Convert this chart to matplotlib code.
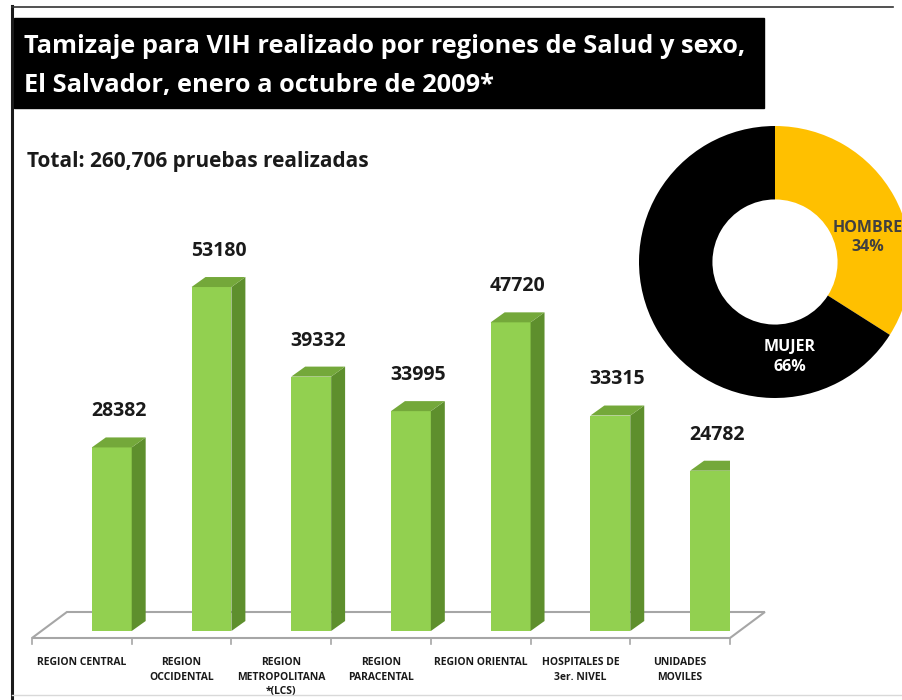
import matplotlib
matplotlib.use("Agg")
import matplotlib.pyplot as plt
from matplotlib.patches import Polygon, Rectangle
from matplotlib.lines import Line2D

plt.rcParams['font.family'] = ['Open Sans', 'DejaVu Sans']

# data
categories = ['REGION CENTRAL', 'REGION\nOCCIDENTAL', 'REGION\nMETROPOLITANA\n*(LCS)',
              'REGION\nPARACENTAL', 'REGION ORIENTAL', 'HOSPITALES DE\n3er. NIVEL',
              'UNIDADES\nMOVILES']
tests = [28382, 53180, 39332, 33995, 47720, 33315, 24782]
sex_labels = ['HOMBRE', 'MUJER']
sex_share = [34, 66]

title = 'Tamizaje para VIH realizado por regiones de Salud y sexo,\nEl Salvador, enero a octubre de 2009*'
subtitle = 'Total: 260,706 pruebas realizadas'

W, H = 902, 700


def fx(x):
    return x / W


def fy(y):
    return 1 - y / H


fig = plt.figure(figsize=(W / 100, H / 100), dpi=100)
fig.patch.set_facecolor('white')

# frame lines and title box
fig.add_artist(Line2D([fx(12), fx(12)], [fy(6), fy(700)], color='#1a1a1a', lw=2.2))
fig.add_artist(Line2D([fx(12), fx(893)], [fy(7), fy(7)], color='#333333', lw=1.2))
fig.add_artist(Line2D([fx(12), fx(902)], [fy(695), fy(695)], color='#d9d9d9', lw=1))
fig.add_artist(Rectangle((fx(14), fy(108)), fx(764) - fx(14), fy(18) - fy(108),
                         transform=fig.transFigure, color='black'))
fig.text(fx(24), fy(66), title, color='white', fontsize=18.3, fontweight='bold',
         ha='left', va='center', linespacing=1.72)
fig.text(fx(27), fy(161), subtitle, color='#1a1a1a', fontsize=15, fontweight='bold',
         ha='left', va='center')

# bar chart (pseudo 3D)
ax = fig.add_axes([fx(32), fy(638), fx(730) - fx(32), fy(238) - fy(638)])
ax.set_xlim(-0.5, 6.5)
ax.set_ylim(-1080, 60760)
for s in ax.spines.values():
    s.set_visible(False)
ax.set_yticks([])

n = len(tests)
ddx, ddy = 0.14, 1546
shift, bw = 0.3, 0.4
floor_front, floor_back, floor_dx = -1080, 2940, 0.35

floor = Polygon([(-0.5, floor_front), (n - 0.5, floor_front),
                 (n - 0.5 + floor_dx, floor_back), (-0.5 + floor_dx, floor_back)],
                closed=True, facecolor='white', edgecolor='#a6a6a6', lw=1.5,
                clip_on=False, zorder=1)
ax.add_patch(floor)
for k in range(n + 1):
    ax.plot([k - 0.5, k - 0.5], [floor_front, floor_front - 900], color='#a6a6a6',
            lw=1.2, clip_on=False, zorder=1)

xs = [i + shift for i in range(n)]
ax.bar(xs, tests, width=bw, color='#92d050', zorder=3)
for x, v in zip(xs, tests):
    xl, xr = x - bw / 2, x + bw / 2
    ax.add_patch(Polygon([(xr, 0), (xr + ddx, ddy), (xr + ddx, v + ddy), (xr, v)],
                         closed=True, facecolor='#5e8f2d', edgecolor='none', zorder=3))
    ax.add_patch(Polygon([(xl, v), (xr, v), (xr + ddx, v + ddy), (xl + ddx, v + ddy)],
                         closed=True, facecolor='#74a83a', edgecolor='none', zorder=3))
    ax.text(x + 0.07, v + 4800, str(v), ha='center', va='baseline', fontsize=14,
            fontweight='bold', color='#1a1a1a')

ax.set_xticks(range(n))
ax.set_xticklabels(categories, fontsize=7.5, fontweight='bold',
                   family=['Liberation Sans Narrow', 'Open Sans'], color='#1a1a1a',
                   linespacing=1.4, va='top')
ax.tick_params(axis='x', length=0, pad=14)

# donut
cx, cy, r = 775, 262, 136
ax2 = fig.add_axes([fx(cx - r), fy(cy + r), 2 * r / W, 2 * r / H])
ax2.pie(sex_share, colors=['#ffc000', '#000000'], startangle=90, counterclock=False,
        wedgeprops=dict(width=0.54, edgecolor='none'))
ax2.set_xlim(-1, 1)
ax2.set_ylim(-1, 1)
ax2.set_aspect('equal')
ax2.text(0.68, 0.18, f'{sex_labels[0]}\n{sex_share[0]}%', ha='center', va='center',
         fontsize=11.5, fontweight='bold', color='#404040', linespacing=1.3, clip_on=False)
ax2.text(0.11, -0.70, f'{sex_labels[1]}\n{sex_share[1]}%', ha='center', va='center',
         fontsize=11.5, fontweight='bold', color='white', linespacing=1.3)

fig.savefig('out.png', dpi=100)
